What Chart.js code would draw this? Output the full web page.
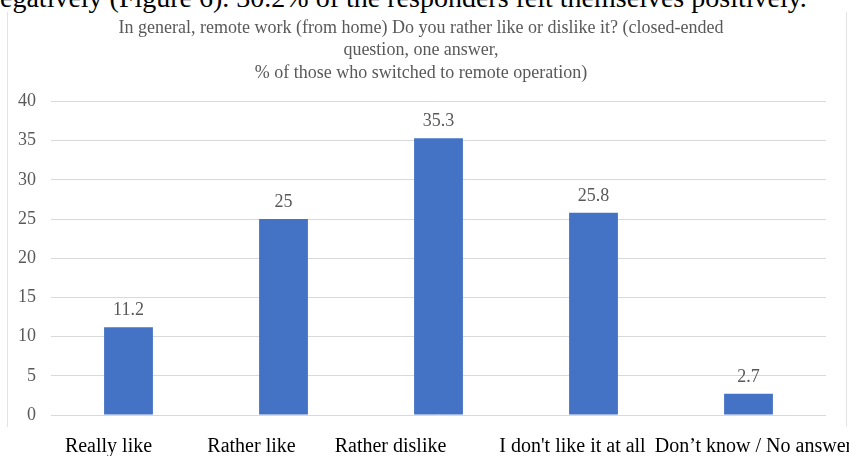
<!DOCTYPE html>
<html>
<head>
<meta charset="utf-8">
<script src="https://cdn.jsdelivr.net/npm/chart.js@4.4.1/dist/chart.umd.min.js"></script>
<style>
  html, body { margin: 0; padding: 0; background: #fff; }
  #page { position: relative; width: 849px; height: 456px; overflow: hidden; }
  #intro {
    position: absolute; left: -14px; top: -18px; white-space: nowrap;
    font-family: 'Liberation Serif', serif; font-size: 28px; color: #000;
  }
  #frame {
    position: absolute; left: 7px; top: 12px; width: 838px; height: 415px;
    border-left: 1px solid #e3e3e3; border-right: 1px solid #e3e3e3;
  }
  #box { position: absolute; left: 0; top: 0; width: 849px; height: 465px; }
</style>
</head>
<body>
<div id="page">
  <div id="intro">negatively (Figure 6). 30.2% of the responders felt themselves positively.</div>
  <div id="frame"></div>
  <div id="box"><canvas id="remoteChart"></canvas></div>
</div>
<script>
// Chart data
const categories = ['Really like', 'Rather like', 'Rather dislike', "I don't like it at all", 'Don\u2019t know / No answer'];
const shares = [11.2, 25, 35.3, 25.8, 2.7];
const titleLines = [
    'In general, remote work (from home) Do you rather like or dislike it? (closed-ended',
    'question, one answer,',
    '% of those who switched to remote operation)'
];

// Style: category labels in the original sit a little off their bars
const labelNudge = [-20, -32, -48, -21, 5];

const serif = "'Liberation Serif', 'Times New Roman', serif";

// Helper: draw the value above each bar
const barValues = {
    id: 'barValues',
    afterDatasetsDraw(chart) {
        const { ctx } = chart;
        const meta = chart.getDatasetMeta(0);
        ctx.save();
        ctx.font = `18px ${serif}`;
        ctx.fillStyle = '#595959';
        ctx.textAlign = 'center';
        ctx.textBaseline = 'bottom';
        meta.data.forEach((bar, i) => {
            ctx.fillText(String(shares[i]), bar.x, bar.y - 8);
        });
        ctx.restore();
    }
};

// Helper: category labels under the axis
const categoryLabels = {
    id: 'categoryLabels',
    afterDraw(chart) {
        const { ctx } = chart;
        const x = chart.scales.x;
        ctx.save();
        ctx.font = `20px ${serif}`;
        ctx.fillStyle = '#000';
        ctx.textAlign = 'center';
        ctx.textBaseline = 'alphabetic';
        categories.forEach((label, i) => {
            ctx.fillText(label, x.getPixelForTick(i) + labelNudge[i], x.top + 37);
        });
        ctx.restore();
    }
};

new Chart(document.getElementById('remoteChart'), {
    type: 'bar',
    data: {
        labels: categories,
        datasets: [{
            data: shares,
            backgroundColor: '#4472C4',
            categoryPercentage: 1,
            barPercentage: 0.315
        }]
    },
    options: {
        responsive: true,
        maintainAspectRatio: false,
        animation: false,
        layout: { padding: { left: 16, right: 23, top: 0, bottom: 5 } },
        plugins: {
            legend: { display: false },
            tooltip: { enabled: false },
            title: {
                display: true,
                text: titleLines,
                color: '#595959',
                font: { family: serif, size: 18, weight: 'normal', lineHeight: 1.25 },
                padding: { top: 17, bottom: 17 }
            }
        },
        scales: {
            y: {
                min: 0,
                max: 40,
                ticks: { stepSize: 5, color: '#595959', padding: 15, font: { family: serif, size: 18 } },
                grid: { color: '#d9d9d9', drawTicks: false },
                border: { display: false },
                afterFit: (scale) => { scale.width = 35; }
            },
            x: {
                ticks: { display: false },
                grid: { display: false },
                border: { display: false },
                afterFit: (scale) => { scale.height = 45; scale.paddingRight = 0; }
            }
        }
    },
    plugins: [barValues, categoryLabels]
});
</script>
</body>
</html>
